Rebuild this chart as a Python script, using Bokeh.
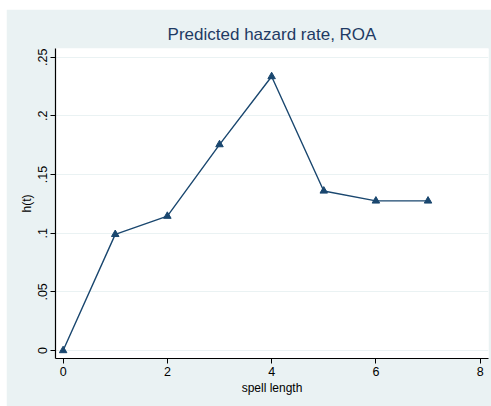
from bokeh.plotting import figure
from bokeh.models import FixedTicker, Range1d, Spacer
from bokeh.layouts import column, row
from bokeh.embed import file_html
from bokeh.resources import INLINE

spell = [0, 1, 2, 3, 4, 5, 6, 7]
hazard = [0.0, 0.099, 0.1145, 0.1755, 0.2335, 0.136, 0.1275, 0.1275]
x_ticks = [0, 2, 4, 6, 8]
y_ticks = [0, 0.05, 0.1, 0.15, 0.2, 0.25]
y_tick_labels = ["0", ".05", ".1", ".15", ".2", ".25"]

NAVY = "#1a476f"
BG = "#eaf2f3"
FONT = "Liberation Sans"

p = figure(width=485, height=397, output_backend="svg", toolbar_location=None,
           x_range=Range1d(-0.146, 8.16), y_range=Range1d(-0.0068, 0.2574),
           min_border_left=49, min_border_right=3, min_border_top=39, min_border_bottom=48)

p.background_fill_color = "white"
p.border_fill_color = BG
p.outline_line_color = None

p.title.text = "Predicted hazard rate, ROA"
p.title.align = "center"
p.title.text_font = FONT
p.title.text_font_size = "17px"
p.title.text_font_style = "normal"
p.title.text_color = "#1e3a64"

p.line(spell, hazard, line_color=NAVY, line_width=1.4)
p.scatter(spell, hazard, marker="triangle", size=7.5, fill_color=NAVY, line_color=NAVY)

p.xaxis.ticker = FixedTicker(ticks=x_ticks)
p.yaxis.ticker = FixedTicker(ticks=y_ticks)
p.yaxis.major_label_overrides = {t: l for t, l in zip(y_ticks, y_tick_labels)}
p.yaxis.major_label_orientation = "parallel"

for ax in (p.xaxis[0], p.yaxis[0]):
    ax.axis_line_color = "black"
    ax.axis_line_width = 1.2
    ax.major_tick_line_color = "black"
    ax.major_tick_in = 0
    ax.major_tick_out = 5
    ax.minor_tick_line_color = None
    ax.major_label_text_font = FONT
    ax.major_label_text_font_size = "12.5px"
    ax.major_label_text_color = "black"
    ax.axis_label_text_font = FONT
    ax.axis_label_text_font_size = "12px"
    ax.axis_label_text_font_style = "normal"
    ax.axis_label_text_color = "black"
    ax.major_label_standoff = 3
    ax.axis_label_standoff = 2

p.xaxis.axis_label = "spell length"
p.yaxis.axis_label = "h(t)"

p.xgrid.grid_line_color = None
p.ygrid.grid_line_color = BG
p.ygrid.grid_line_width = 1

layout = column(Spacer(height=9), row(Spacer(width=6), p, spacing=0), spacing=0)

open("out.html", "w").write(file_html(layout, INLINE))
